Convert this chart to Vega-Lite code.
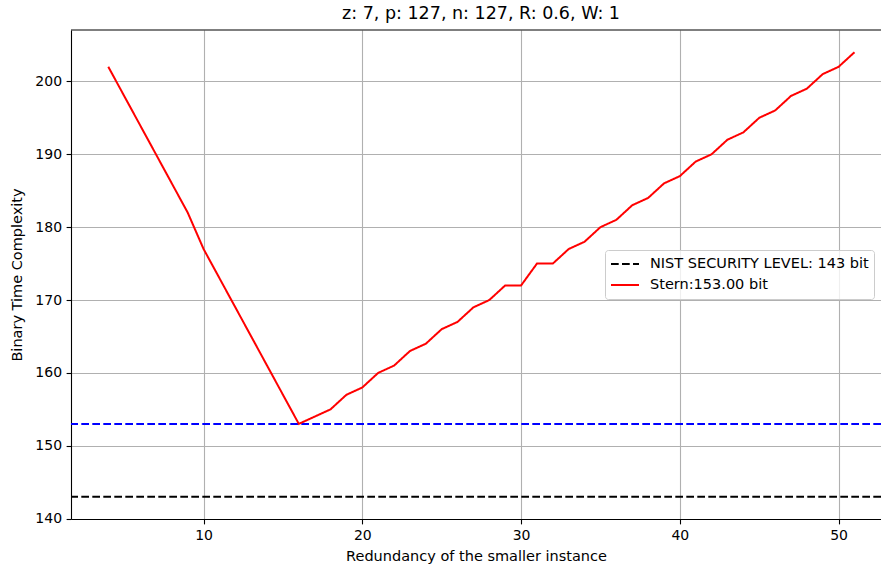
{
  "$schema": "https://vega.github.io/schema/vega-lite/v6.json",
  "width": 810,
  "height": 489,
  "autosize": {"type": "none"},
  "padding": {"left": 71, "top": 30, "right": 0, "bottom": 50},
  "background": "white",
  "config": {
    "font": "DejaVu Sans",
    "view": {"stroke": null},
    "axis": {
      "domainColor": "black",
      "domainWidth": 1.1,
      "tickColor": "black",
      "tickWidth": 1.1,
      "tickSize": 4.9,
      "labelPadding": 4.5,
      "labelFontSize": 14,
      "labelColor": "black",
      "labelFont": "DejaVu Sans",
      "titleFont": "DejaVu Sans",
      "titleFontSize": 14.5,
      "titleFontWeight": "normal",
      "titleColor": "black",
      "grid": true,
      "gridColor": "#b0b0b0",
      "gridWidth": 1.1,
      "gridOpacity": 1
    },
    "title": {"font": "DejaVu Sans", "fontSize": 17.5, "fontWeight": "normal", "color": "black"}
  },
  "title": {"text": "z: 7, p: 127, n: 127, R: 0.6, W: 1", "offset": 7, "dx": 5},
  "datasets": {
    "stern": [
      {"r": 4, "c": 202}, {"r": 5, "c": 198}, {"r": 6, "c": 194}, {"r": 7, "c": 190}, {"r": 8, "c": 186},
      {"r": 9, "c": 182}, {"r": 10, "c": 177}, {"r": 11, "c": 173}, {"r": 12, "c": 169}, {"r": 13, "c": 165},
      {"r": 14, "c": 161}, {"r": 15, "c": 157}, {"r": 16, "c": 153}, {"r": 17, "c": 154}, {"r": 18, "c": 155},
      {"r": 19, "c": 157}, {"r": 20, "c": 158}, {"r": 21, "c": 160}, {"r": 22, "c": 161}, {"r": 23, "c": 163},
      {"r": 24, "c": 164}, {"r": 25, "c": 166}, {"r": 26, "c": 167}, {"r": 27, "c": 169}, {"r": 28, "c": 170},
      {"r": 29, "c": 172}, {"r": 30, "c": 172}, {"r": 31, "c": 175}, {"r": 32, "c": 175}, {"r": 33, "c": 177},
      {"r": 34, "c": 178}, {"r": 35, "c": 180}, {"r": 36, "c": 181}, {"r": 37, "c": 183}, {"r": 38, "c": 184},
      {"r": 39, "c": 186}, {"r": 40, "c": 187}, {"r": 41, "c": 189}, {"r": 42, "c": 190}, {"r": 43, "c": 192},
      {"r": 44, "c": 193}, {"r": 45, "c": 195}, {"r": 46, "c": 196}, {"r": 47, "c": 198}, {"r": 48, "c": 199},
      {"r": 49, "c": 201}, {"r": 50, "c": 202}, {"r": 51, "c": 204}
    ],
    "levels": [
      {"c": 143, "series": "NIST SECURITY LEVEL: 143 bit"}
    ],
    "one": [{"k": 1}]
  },
  "layer": [
    {
      "data": {"name": "one"},
      "mark": {"type": "rule", "color": "blue", "strokeWidth": 2, "strokeDash": [7.7, 3.3]},
      "encoding": {"y": {"datum": 153, "type": "quantitative"}}
    },
    {
      "data": {"name": "levels"},
      "mark": {"type": "rule", "strokeWidth": 2},
      "encoding": {
        "y": {
          "field": "c", "type": "quantitative",
          "scale": {"domain": [139.95, 207.05], "nice": false, "zero": false},
          "axis": {"values": [140, 150, 160, 170, 180, 190, 200], "title": "Binary Time Complexity", "titlePadding": 10, "grid": true}
        },
        "color": {
          "field": "series", "type": "nominal",
          "scale": {"domain": ["NIST SECURITY LEVEL: 143 bit", "Stern:153.00 bit"], "range": ["black", "red"]},
          "legend": {
            "title": null, "orient": "none", "legendX": 534, "legendY": 220,
            "symbolType": "stroke", "symbolSize": 784, "symbolStrokeWidth": 2,
            "labelFontSize": 14.5, "labelFont": "DejaVu Sans", "labelColor": "black", "labelLimit": 400,
            "fillColor": "rgba(255,255,255,0.8)", "strokeColor": "#cccccc", "cornerRadius": 3,
            "padding": 5, "rowPadding": 3, "clipHeight": 18, "labelOffset": 10
          }
        },
        "strokeDash": {
          "field": "series", "type": "nominal",
          "scale": {"domain": ["NIST SECURITY LEVEL: 143 bit", "Stern:153.00 bit"], "range": [[7.7, 3.3], [1, 0]]},
          "legend": null
        }
      }
    },
    {
      "data": {"name": "stern"},
      "transform": [{"calculate": "'Stern:153.00 bit'", "as": "series"}],
      "mark": {"type": "line", "strokeWidth": 2},
      "encoding": {
        "x": {
          "field": "r", "type": "quantitative",
          "scale": {"domain": [1.65, 52.67], "nice": false, "zero": false},
          "axis": {"values": [10, 20, 30, 40, 50], "title": "Redundancy of the smaller instance", "titlePadding": 7, "grid": true}
        },
        "y": {"field": "c", "type": "quantitative"},
        "color": {"field": "series", "type": "nominal"},
        "strokeDash": {"field": "series", "type": "nominal"}
      }
    },
    {
      "data": {"name": "one"},
      "mark": {"type": "rule", "color": "black", "strokeWidth": 1.1},
      "encoding": {"y": {"datum": 207.05, "type": "quantitative"}}
    }
  ]
}
